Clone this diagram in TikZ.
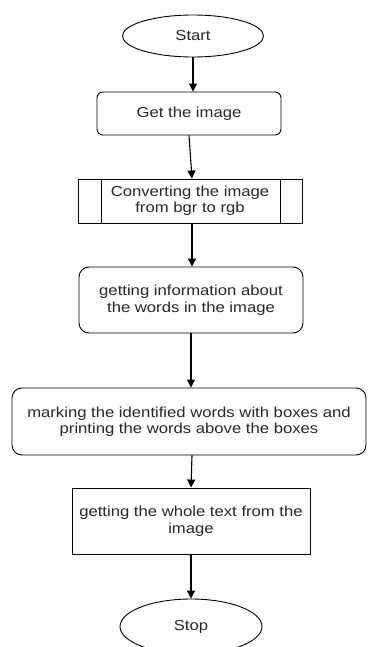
\documentclass[tikz,border=0pt]{standalone}
\usepackage{fontspec}
\setmainfont{Liberation Sans}[FakeStretch=1.15]
\usetikzlibrary{shapes.geometric,arrows.meta}
\begin{document}
\begin{tikzpicture}[x=1pt,y=-1pt,
  every node/.style={font=\fontsize{14.5}{16.5}\selectfont, text=black!85, align=center, inner sep=0pt},
  term/.style={draw, ellipse, line width=0.9pt},
  rbox/.style={draw, rectangle, rounded corners=8pt, line width=0.9pt},
  sbox/.style={draw, rectangle, line width=0.9pt},
  conn/.style={line width=1.1pt, -{Triangle[length=8pt,width=8pt]}}]
\useasboundingbox (0,0) rectangle (369,647);
\begin{scope}
\clip (0,0) rectangle (369,647);
\node[term, minimum width=141pt, minimum height=42pt] (start) at (193,36) {Start};
\node[rbox, rounded corners=6pt, minimum width=184pt, minimum height=43pt] (get) at (189,113.5) {Get the image};
\node[sbox, minimum width=224pt, minimum height=44pt] (conv) at (190,201) {Converting the image\\from bgr to rgb};
\draw[line width=0.9pt] ([xshift=24pt]conv.north west) -- ([xshift=24pt]conv.south west);
\draw[line width=0.9pt] ([xshift=-22pt]conv.north east) -- ([xshift=-22pt]conv.south east);
\node[rbox, rounded corners=10pt, minimum width=224pt, minimum height=66pt] (info) at (191,300) {getting information about\\the words in the image};
\node[rbox, rounded corners=10pt, minimum width=354pt, minimum height=67pt] (mark) at (189,421.5) {marking the identified words with boxes and\\printing the words above the boxes};
\node[sbox, minimum width=238pt, minimum height=66pt] (whole) at (191,521) {getting the whole text from the\\image};
\node[term, minimum width=142pt, minimum height=55pt] (stop) at (191,626.5) {Stop};
\draw[conn] (start.south) -- (start.south |- get.north);
\draw[conn] (get.south) -- ([xshift=2pt]conv.north);
\draw[conn] ([xshift=2pt]conv.south) -- ([xshift=1pt]info.north);
\draw[conn] (info.south) -- (info.south |- mark.north);
\draw[conn] ([xshift=3pt]mark.south) -- (whole.north);
\draw[conn] (whole.south) -- (stop.north);
\end{scope}
\end{tikzpicture}
\end{document}
